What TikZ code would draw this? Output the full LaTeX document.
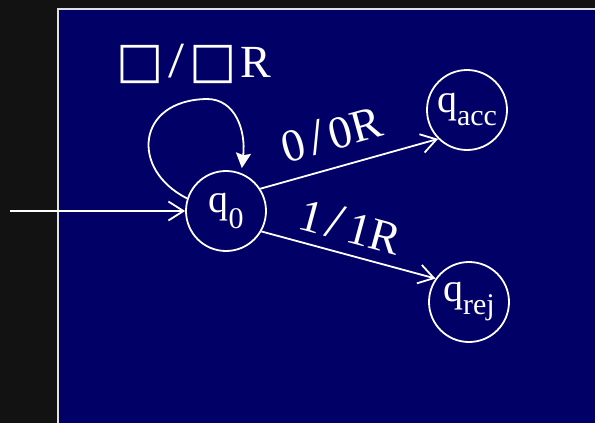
\documentclass[tikz,border=0pt]{standalone}
\usepackage{fontspec}
\setmainfont{Liberation Serif}
\newfontfamily\symfont{DejaVu Sans}
\usetikzlibrary{arrows.meta}
\definecolor{darkbg}{RGB}{18,18,18}
\definecolor{navy}{RGB}{0,0,102}
\definecolor{rim}{RGB}{225,225,225}
\newcommand\lowsub[2]{\raisebox{-#1}{\fontsize{30}{32}\selectfont #2}}
\newcommand\blanksym{{\symfont\fontsize{50}{52}\selectfont □}}
\newcommand\myslash{\hspace{5pt}\scalebox{1.25}[1.1]{/}\hspace{5pt}}
\begin{document}
\begin{tikzpicture}[x=1pt,y=-1pt,
  state/.style={circle,draw=white,line width=1.8pt,minimum size=80pt,inner sep=0pt,text=white,font=\fontsize{40}{42}\selectfont},
  edge/.style={draw=white,line width=1.8pt,-{Straight Barb[length=15pt,width=19pt,line width=1.8pt]}},
  loopedge/.style={draw=white,line width=1.8pt,-{Stealth[length=15pt,width=15pt,inset=2pt]},shorten >=5pt},
  lbl/.style={text=white,font=\fontsize{46}{48}\selectfont,inner sep=0pt}]
\useasboundingbox (0,0) rectangle (595,423);
\fill[darkbg] (0,0) rectangle (595,423);
\filldraw[fill=navy,draw=rim,line width=1.5pt] (58,9) rectangle (620,450);
\node[state] (q0) at (226,211) {q\lowsub{16pt}{0}};
\node[state] (qacc) at (467,110) {q\lowsub{13pt}{acc}};
\node[state] (qrej) at (469,302) {q\lowsub{13pt}{rej}};
\coordinate (init) at (10,211);
\coordinate (looptop) at (207,99);
\draw[edge] (init) -- (q0);
\draw[edge] (q0.33) -- node[lbl,sloped,pos=0.45,above=16pt] {0\myslash0R} (qacc.225);
\draw[edge] (q0.-30) -- node[lbl,sloped,pos=0.47,above=11pt] {1\myslash1R} (qrej.145);
\draw[loopedge] (q0.162) .. controls (130,170) and (136,100) .. (looptop) .. controls (235,99) and (246,130) .. (q0.68);
\node[lbl] (looplbl) at (194,64) {\blanksym\myslash\blanksym\hspace{4pt}R};
\end{tikzpicture}
\end{document}
